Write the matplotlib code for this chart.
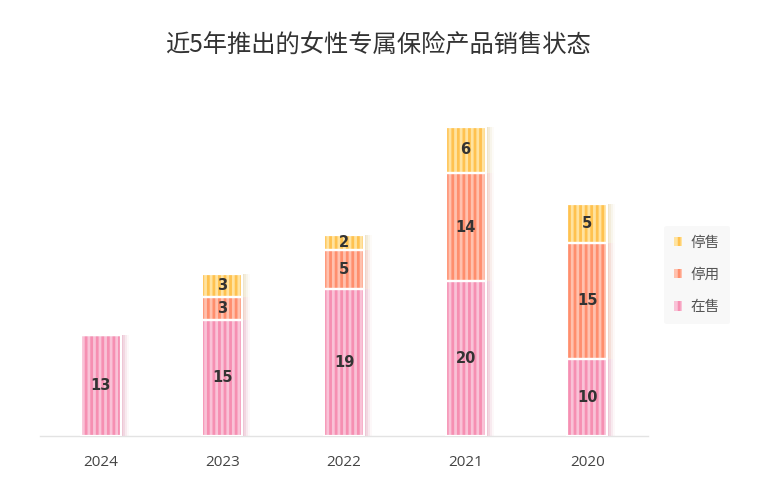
import matplotlib
matplotlib.use("agg")
import matplotlib.pyplot as plt
from matplotlib.patches import Patch

plt.rcParams['font.family'] = ['Noto Sans CJK SC', 'DejaVu Sans']
plt.rcParams['hatch.linewidth'] = 2.0

# 資料
years = ["2024", "2023", "2022", "2021", "2020"]
on_sale = [13, 15, 19, 20, 10]     # 在售
disabled = [0, 3, 5, 14, 15]       # 停用
stopped = [0, 3, 2, 6, 5]          # 停售
series_names = ["在售", "停用", "停售"]

# 顏色 (淺底色, 深條紋)
light_colors = ["#f9c2d7", "#ffc1ae", "#ffe3a0"]
dark_colors = ["#f68fb2", "#ff8e6d", "#ffc24f"]
shadow_colors = ["#e3a0b8", "#e8b4a4", "#e4d2a6"]

fig = plt.figure(figsize=(7.67, 4.98), dpi=100)
ax = fig.add_axes([40 / 767, 62 / 498, 608 / 767, 348 / 498])

x = list(range(len(years)))
width = 0.33
px = width / 40.0

series = [on_sale, disabled, stopped]
bottoms = [0] * len(years)
for k, vals in enumerate(series):
    # 陰影
    for off, a in [(2, 0.4), (4, 0.25), (6, 0.15), (8, 0.07)]:
        ax.bar([i + off * px for i in x], vals, width, bottom=bottoms,
               color=shadow_colors[k], alpha=a, linewidth=0, zorder=1)
    ax.bar(x, vals, width, bottom=bottoms, color=light_colors[k],
           hatch='|||', edgecolor=dark_colors[k], linewidth=0, zorder=2)
    ax.bar(x, vals, width, bottom=bottoms, fill=False,
           edgecolor='white', linewidth=1.6, zorder=3)
    for i, v in enumerate(vals):
        if v > 0:
            ax.text(x[i], bottoms[i] + v / 2, str(v), ha='center', va='center',
                    fontsize=10.5, fontweight='bold', color='#333333',
                    family=['DejaVu Sans'], zorder=4)
    bottoms = [b + v for b, v in zip(bottoms, vals)]

ax.set_xlim(-0.5, len(years) - 0.5)
ax.set_ylim(0, 45)
ax.set_xticks(x)
ax.set_xticklabels(years, fontsize=11, color='#444444', family=['Open Sans'])
ax.tick_params(axis='x', length=0, pad=14)
ax.set_yticks([])
for s in ['top', 'right', 'left']:
    ax.spines[s].set_visible(False)
ax.spines['bottom'].set_color('#e3e3e3')
ax.spines['bottom'].set_linewidth(1)

fig.text(378 / 767, 1 - 45 / 498, "近5年推出的女性专属保险产品销售状态",
         ha='center', va='center', fontsize=17.5, color='#333333')

handles = [Patch(facecolor=light_colors[k], edgecolor=dark_colors[k],
                 hatch='||', linewidth=0) for k in [2, 1, 0]]
labels = [series_names[k] for k in [2, 1, 0]]
leg = fig.legend(handles, labels, loc='center left',
                 bbox_to_anchor=(664 / 767, 1 - 275 / 498),
                 frameon=True, fontsize=10.5, handlelength=0.55, handleheight=0.6,
                 handletextpad=0.6, labelspacing=1.25, borderpad=0.7,
                 borderaxespad=0)
leg.get_frame().set_facecolor('#f7f7f7')
leg.get_frame().set_edgecolor('none')
for t in leg.get_texts():
    t.set_color('#555555')

fig.savefig("out.png", dpi=100)
